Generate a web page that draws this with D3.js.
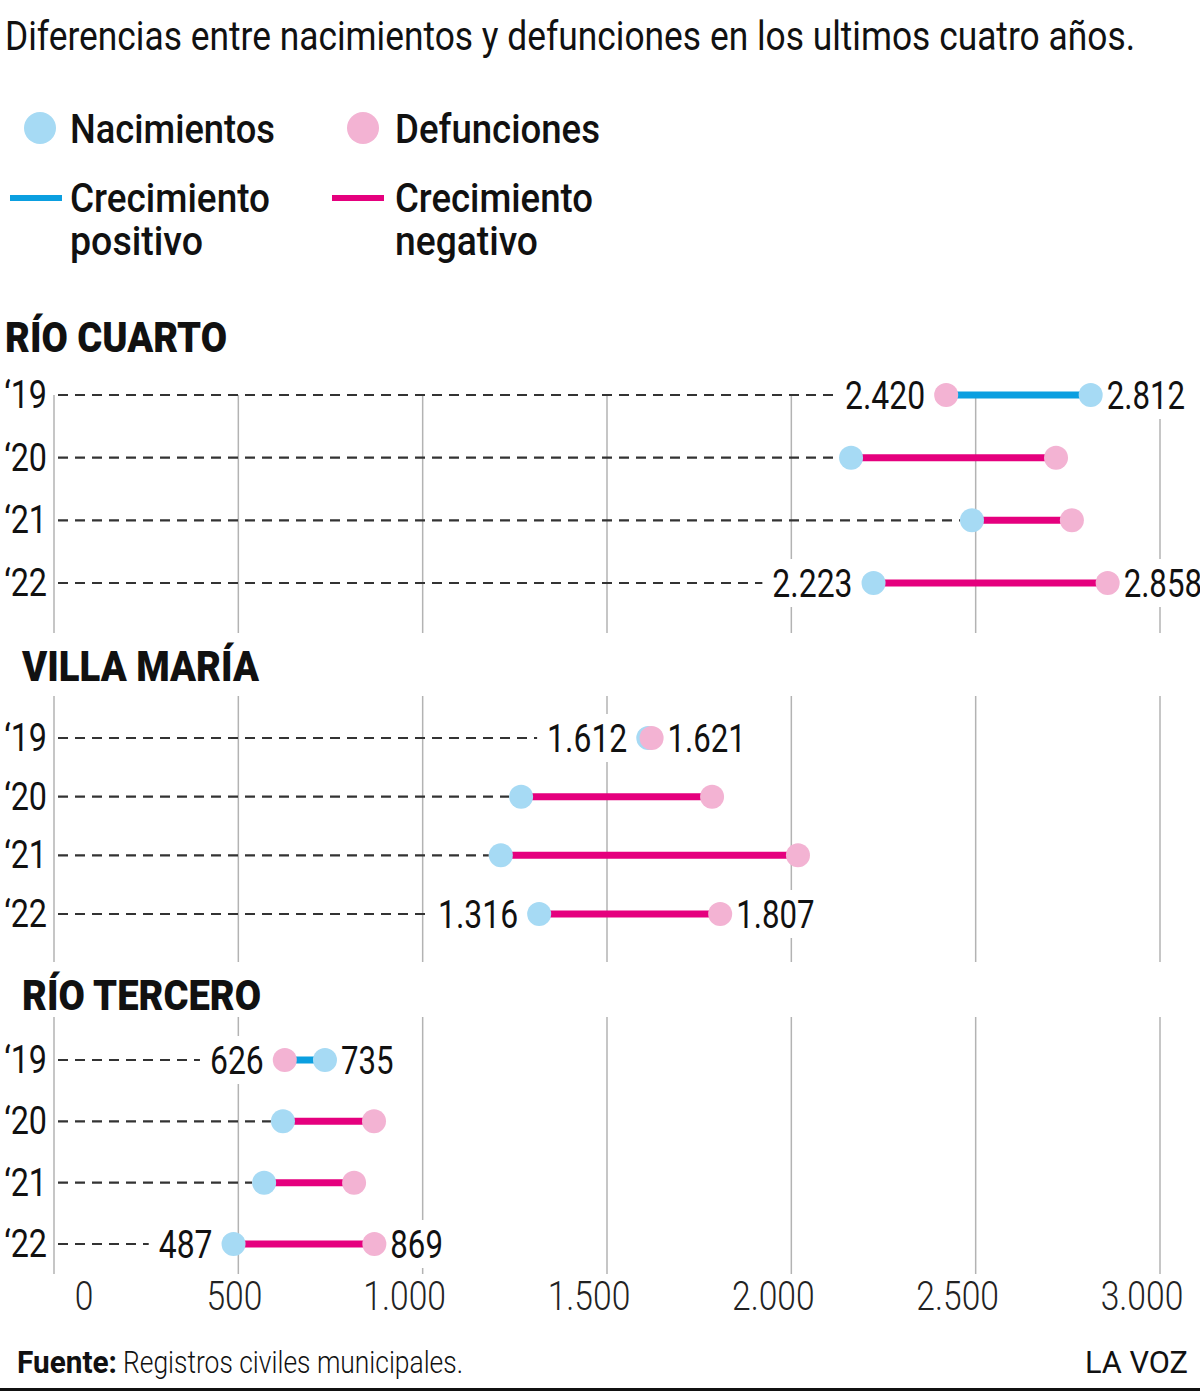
<!DOCTYPE html>
<html>
<head>
<meta charset="utf-8">
<script src="https://cdn.jsdelivr.net/npm/d3@7"></script>
<style>
  body { margin: 0; background: #fff; }
  svg { display: block; font-family: Roboto, "Noto Sans", sans-serif; }
</style>
</head>
<body>
<svg id="chart" width="1200" height="1396"></svg>
<script>
// datos
var years = ["‘19", "‘20", "‘21", "‘22"];
var cities = ["RÍO CUARTO", "VILLA MARÍA", "RÍO TERCERO"];
var nacRioCuarto = [2812, 2162, 2490, 2223];
var defRioCuarto = [2420, 2718, 2761, 2858];
var nacVillaMaria = [1612, 1267, 1212, 1316];
var defVillaMaria = [1621, 1785, 2018, 1807];
var nacRioTercero = [735, 621, 570, 487];
var defRioTercero = [626, 868, 814, 869];
var ticks = [0, 500, 1000, 1500, 2000, 2500, 3000];
var labelYears = ["‘19", "‘22"];

var nac = [nacRioCuarto, nacVillaMaria, nacRioTercero];
var def = [defRioCuarto, defVillaMaria, defRioTercero];

var C_NAC = "#a6daf4", C_DEF = "#f3b3d3", C_POS = "#0b9fe0", C_NEG = "#e5007e";

// layout por panel
var panels = [
  { head: 352, headX: 5, rows: [395, 583], grid: [395, 633] },
  { head: 681, headX: 22, rows: [738, 914], grid: [696, 962] },
  { head: 1010, headX: 22, rows: [1060, 1244], grid: [1017, 1274] }
];

var svg = d3.select("#chart");
var x = d3.scaleLinear().domain([0, 3000]).range([54, 1160]);
var fmt = function(v) { return d3.format(",")(v).replace(/,/g, "."); };

// ajusta el ancho del texto (tipografia condensada)
function fit(sel, w) {
  sel.attr("textLength", w).attr("lengthAdjust", "spacingAndGlyphs");
}
function squeeze(sel, k) {
  sel.each(function() {
    var w = this.getComputedTextLength();
    d3.select(this).attr("textLength", w * k).attr("lengthAdjust", "spacingAndGlyphs");
  });
}

// titulo
svg.append("text").attr("x", 5).attr("y", 50)
  .attr("font-size", 40).attr("fill", "#111")
  .text("Diferencias entre nacimientos y defunciones en los ultimos cuatro años.")
  .call(fit, 1130);

// leyenda
var lg = svg.append("g").attr("font-size", 40).attr("font-weight", 500).attr("fill", "#111");
lg.append("circle").attr("cx", 40).attr("cy", 128).attr("r", 16).attr("fill", C_NAC);
lg.append("text").attr("x", 70).attr("y", 143).text("Nacimientos").call(fit, 205);
lg.append("circle").attr("cx", 363).attr("cy", 128).attr("r", 16).attr("fill", C_DEF);
lg.append("text").attr("x", 395).attr("y", 143).text("Defunciones").call(fit, 205);
lg.append("line").attr("x1", 10).attr("x2", 62).attr("y1", 198).attr("y2", 198)
  .attr("stroke", C_POS).attr("stroke-width", 6);
lg.append("text").attr("x", 70).attr("y", 212).text("Crecimiento").call(fit, 200);
lg.append("text").attr("x", 70).attr("y", 255).text("positivo").call(fit, 133);
lg.append("line").attr("x1", 332).attr("x2", 384).attr("y1", 198).attr("y2", 198)
  .attr("stroke", C_NEG).attr("stroke-width", 6);
lg.append("text").attr("x", 395).attr("y", 212).text("Crecimiento").call(fit, 198);
lg.append("text").attr("x", 395).attr("y", 255).text("negativo").call(fit, 143);

var headW = [222, 237, 239];

panels.forEach(function(p, i) {
  var y = d3.scalePoint().domain(years).range(p.rows);
  var g = svg.append("g");

  g.append("text").attr("x", p.headX).attr("y", p.head)
    .attr("font-size", 42).attr("font-weight", 900).attr("fill", "#111")
    .text(cities[i]).call(fit, headW[i]);

  // lineas de grilla
  g.append("g").selectAll("line").data(ticks).enter().append("line")
    .attr("x1", function(d) { return x(d); }).attr("x2", function(d) { return x(d); })
    .attr("y1", p.grid[0]).attr("y2", p.grid[1])
    .attr("stroke", "#b3b3b3").attr("stroke-width", 1.5);

  var rows = years.map(function(yr, j) {
    return { year: yr, nac: nac[i][j], def: def[i][j] };
  });

  // etiquetas de año
  g.append("g").selectAll("text").data(rows).enter().append("text")
    .attr("x", 47).attr("y", function(d) { return y(d.year) + 13; })
    .attr("text-anchor", "end").attr("font-size", 38).attr("fill", "#111")
    .text(function(d) { return d.year; })
    .call(squeeze, 0.85);

  rows.forEach(function(d) {
    var yy = y(d.year);
    var lo = Math.min(d.nac, d.def), hi = Math.max(d.nac, d.def);
    var dashEnd = x(lo) - 12;
    var labels = g.append("g");

    if (labelYears.indexOf(d.year) >= 0) {
      var tl = labels.append("text").attr("x", x(lo) - 21).attr("y", yy + 14)
        .attr("text-anchor", "end").attr("font-size", 38).attr("fill", "#111")
        .text(fmt(lo)).call(squeeze, 0.84);
      var tr = labels.append("text").attr("x", x(hi) + 16).attr("y", yy + 14)
        .attr("font-size", 38).attr("fill", "#111")
        .text(fmt(hi)).call(squeeze, 0.82);
      var wl = +tl.attr("textLength"), wr = +tr.attr("textLength");
      labels.insert("rect", "text").attr("x", x(lo) - 21 - wl - 4).attr("y", yy - 24)
        .attr("width", wl + 8).attr("height", 48).attr("fill", "#fff");
      labels.insert("rect", "text").attr("x", x(hi) + 12).attr("y", yy - 24)
        .attr("width", wr + 8).attr("height", 48).attr("fill", "#fff");
      dashEnd = x(lo) - 21 - wl - 10;
    }

    g.insert("line", "g:last-child")
      .attr("x1", x(0) + 4).attr("x2", dashEnd).attr("y1", yy).attr("y2", yy)
      .attr("stroke", "#333").attr("stroke-width", 2.2).attr("stroke-dasharray", "10,7");

    g.append("line").attr("x1", x(lo)).attr("x2", x(hi)).attr("y1", yy).attr("y2", yy)
      .attr("stroke", d.nac > d.def ? C_POS : C_NEG).attr("stroke-width", 7);
    g.append("circle").attr("cx", x(d.nac)).attr("cy", yy).attr("r", 12).attr("fill", C_NAC);
    g.append("circle").attr("cx", x(d.def)).attr("cy", yy).attr("r", 12).attr("fill", C_DEF);
  });
});

// eje inferior
svg.append("g").selectAll("text").data(ticks).enter().append("text")
  .attr("x", function(d) { return d === 0 ? x(d) + 30 : (d === 500 ? x(d) - 4 : x(d) - 18); })
  .attr("y", 1310).attr("text-anchor", "middle")
  .attr("font-size", 40).attr("font-weight", 300).attr("fill", "#222")
  .text(fmt)
  .call(squeeze, 0.84);

// pie
svg.append("text").attr("x", 17).attr("y", 1373).attr("font-size", 32)
  .attr("font-weight", 700).attr("fill", "#111").text("Fuente:").call(fit, 100);
svg.append("text").attr("x", 123).attr("y", 1373).attr("font-size", 32)
  .attr("font-weight", 300).attr("fill", "#111").text("Registros civiles municipales.").call(fit, 340);
svg.append("text").attr("x", 1188).attr("y", 1373).attr("text-anchor", "end")
  .attr("font-size", 32).attr("fill", "#111").text("LA VOZ").call(fit, 103);
svg.append("rect").attr("x", 0).attr("y", 1388).attr("width", 1200).attr("height", 3).attr("fill", "#111");
</script>
</body>
</html>
